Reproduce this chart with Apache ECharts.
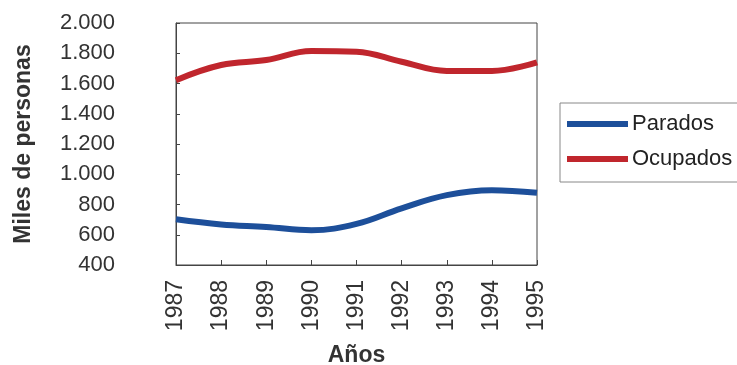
<!DOCTYPE html>
<html><head><meta charset="utf-8">
<script src="https://cdn.jsdelivr.net/npm/echarts@6/dist/echarts.min.js"></script>
<style>html,body{margin:0;padding:0;background:#fff}#c{width:737px;height:365px}</style>
</head><body><div id="c"></div>
<script>
const years = ['1987','1988','1989','1990','1991','1992','1993','1994','1995'];
const parados = [702, 668, 652, 630, 672, 775, 862, 895, 878];
const ocupados = [1622, 1722, 1755, 1815, 1810, 1744, 1683, 1683, 1740];
const yTicks = {min: 400, max: 2000, interval: 200};

const chart = echarts.init(document.getElementById('c'));
const font = '"Liberation Sans", Arial, sans-serif';
chart.setOption({
  animation: false,
  backgroundColor: '#fff',
  textStyle: {fontFamily: font},
  grid: {left: 176, right: 200, top: 23, bottom: 100, show: true, borderColor: '#444', borderWidth: 1,
         containLabel: false, outerBoundsMode: 'none'},
  legend: {
    orient: 'vertical', left: 560, top: 103,
    data: ['Parados', 'Ocupados'],
    icon: 'rect', itemWidth: 61, itemHeight: 6, itemGap: 13,
    padding: [10, 6, 12, 7],
    borderColor: '#888', borderWidth: 1,
    textStyle: {fontSize: 22, color: '#222', fontFamily: font, padding: [0, 0, 0, -1]}
  },
  xAxis: {
    type: 'category', data: years, boundaryGap: false,
    name: 'Años', nameLocation: 'middle', nameGap: 79,
    nameTextStyle: {fontSize: 23, fontWeight: 'bold', color: '#333', fontFamily: font},
    axisLine: {lineStyle: {color: '#444'}},
    axisTick: {inside: true, length: 5, lineStyle: {color: '#444'}},
    axisLabel: {rotate: 90, fontSize: 23, color: '#333', margin: 15, fontFamily: font}
  },
  yAxis: {
    type: 'value', min: yTicks.min, max: yTicks.max, interval: yTicks.interval,
    name: 'Miles de personas', nameLocation: 'middle', nameGap: 141,
    nameTextStyle: {fontSize: 23, fontWeight: 'bold', color: '#333', fontFamily: font},
    axisLine: {show: true, lineStyle: {color: '#444'}},
    axisTick: {show: true, inside: true, length: 4, lineStyle: {color: '#444'}},
    splitLine: {show: false},
    axisLabel: {fontSize: 22, color: '#333', margin: 61, fontFamily: font,
      formatter: v => String(v).replace(/\B(?=(\d{3})+(?!\d))/g, '.')}
  },
  series: [
    {name: 'Parados', type: 'line', data: parados, smooth: 0.4, symbol: 'none',
     lineStyle: {width: 6, color: '#1d4f9a'}, itemStyle: {color: '#1d4f9a'}},
    {name: 'Ocupados', type: 'line', data: ocupados, smooth: 0.4, symbol: 'none',
     lineStyle: {width: 6, color: '#c0262d'}, itemStyle: {color: '#c0262d'}}
  ]
});
</script></body></html>
